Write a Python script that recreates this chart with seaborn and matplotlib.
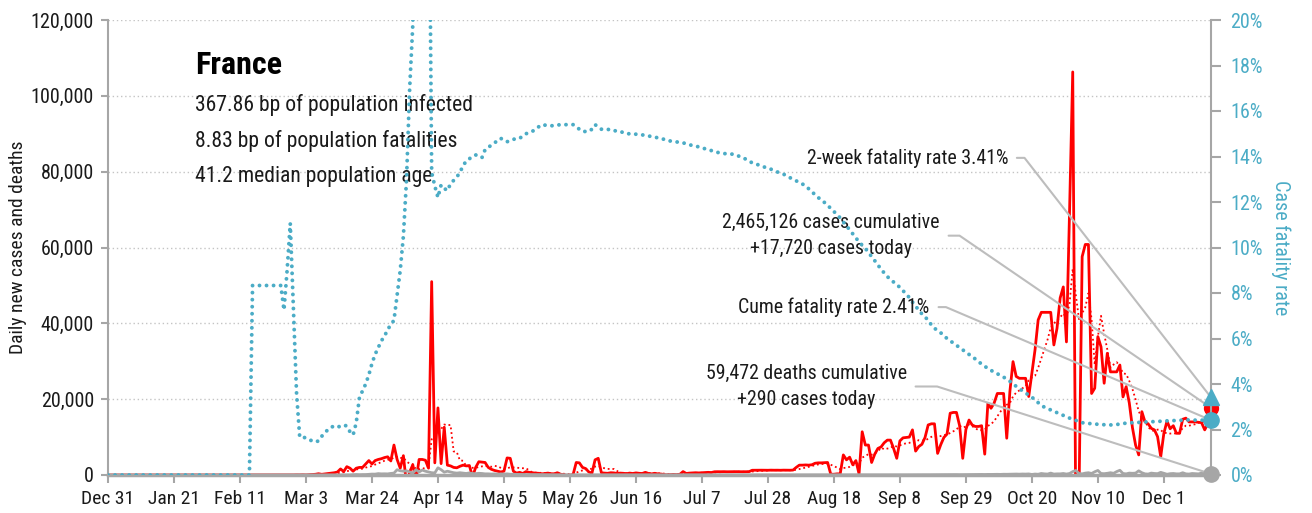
import pandas as pd
import matplotlib
matplotlib.use("Agg")
import matplotlib.pyplot as plt
from matplotlib import font_manager
from matplotlib.ticker import FuncFormatter, MultipleLocator
import seaborn as sns

# daily series from Dec 31 2019
start = "2019-12-31"

cases = [
    0, 0, 0, 0, 0, 0, 0, 0, 0, 0,
    0, 0, 0, 0, 0, 0, 0, 0, 0, 0,
    0, 0, 0, 0, 3, 0, 0, 1, 0, 1,
    0, 0, 0, 0, 0, 0, 0, 0, 0, 5,
    0, 0, 0, 1, 0, 0, 1, 0, 0, 0,
    0, 0, 0, 0, 0, 0, 2, 4, 20, 19,
    43, 30, 61, 21, 73, 138, 190, 336, 177, 286,
    372, 497, 595, 785, 1600, 900, 2200, 1800, 1000, 1800,
    2000, 2000, 2900, 3800, 2900, 3800, 4100, 4300, 4600, 4800,
    3700, 7900, 4100, 1800, 5100, -2500, 800, 2700, -1500, 4100,
    4100, 3900, 1800, 51000, 3200, 17700, 3000, 12600, 2600, 2400,
    2000, 1900, 2300, 2600, 2400, 2500, -500, 2000, 3500, 3400,
    3300, 2000, 1500, 1200, 1000, 800, 1000, 4500, 4400, 1000,
    500, 700, 400, 900, 700, 600, 500, 450, 300, 400,
    500, 350, 300, 600, 200, 100, -100, -50, 100, 3300,
    3200, 2000, 1700, 800, 500, 4000, 4400, 600, 500, 450,
    600, 550, 400, 500, 450, 350, 500, 400, 550, 450,
    400, 700, 400, 300, 450, 300, 250, 100, 50, 100,
    150, 100, 200, 900, 400, 500, 550, 600, 550, 600,
    650, 700, 650, 850, 870, 860, 880, 850, 860, 870,
    880, 860, 850, 870, 880, 1250, 1260, 1250, 1270, 1260,
    1250, 1280, 1260, 1270, 1250, 1280, 1270, 1260, 1300, 2000,
    2600, 2600, 2650, 2600, 2700, 3100, 3200, 3200, 3250, 3300,
    200, 200, 300, 300, 5300, 4000, 4700, 2700, 3800, 300,
    11400, 7900, 7900, 3300, 5500, 7000, 7400, 8500, 9200, 9200,
    7000, 4400, 9000, 9800, 9900, 10000, 11900, 6300, 7500, 8100,
    9900, 13200, 13500, 13500, 5700, 8000, 9900, 10800, 16300, 16500,
    16500, 13000, 4400, 12000, 14500, 13200, 12800, 12800, 13000, 5500,
    18900, 17600, 19000, 21500, 21500, 21500, 9700, 22000, 29900, 26000,
    25500, 25500, 25500, 20700, 26800, 33000, 40900, 42900, 42900, 42900,
    42900, 34300, 38700, 46700, 49600, 35100, 70000, 106300, -15000, -5000,
    57600, 60800, 60800, 21500, 22900, 36500, 33800, 24200, 32100, 27200,
    27200, 27200, 29000, 20600, 23300, 19000, 12500, 7900, 5300, 16700,
    14000, 13500, 12300, 11900, 10100, 4800, 11000, 14200, 12200, 13000,
    11000, 11000, 14700, 15000, 14000, 14000, 14000, 13900, 13800, 11900,
    13600,
]

deaths = [
    0, 0, 0, 0, 0, 0, 0, 0, 0, 0,
    0, 0, 0, 0, 0, 0, 0, 0, 0, 0,
    0, 0, 0, 0, 0, 0, 0, 0, 0, 0,
    0, 0, 0, 0, 0, 0, 0, 0, 0, 0,
    0, 0, 0, 0, 0, 0, 1, 0, 0, 0,
    0, 0, 0, 0, 0, 0, 0, 1, 0, 0,
    0, 0, 1, 1, 0, 2, 3, 2, 3, 11,
    3, 15, 13, 18, 12, 36, 21, 27, 69, 128,
    78, 112, 112, 186, 240, 231, 365, 299, 319, 292,
    418, 500, 1400, 1100, 1000, 1100, 800, 500, 1400, 800,
    1300, 1000, 800, 600, 550, 1900, 1400, 750, 1000, 800,
    600, 500, 600, 500, 400, 550, 400, 350, 450, 400,
    300, 300, 250, 300, 200, 300, 250, 300, 200, 180,
    150, 140, 130, 120, 110, 100, 90, 90, 80, 70,
    70, 60, 55, 50, 70, 45, 40, 40, 35, 50,
    30, 30, 30, 25, 30, 25, 20, 25, 20, 20,
    25, 20, 15, 20, 25, 15, 20, 15, 20, 25,
    15, 20, 15, 10, 20, 15, 20, 25, 15, 20,
    15, 20, 10, 15, 20, 15, 20, 10, 15, 20,
    15, 20, 15, 10, 20, 15, 20, 15, 10, 20,
    15, 20, 15, 10, 20, 15, 20, 15, 20, 15,
    15, 20, 10, 15, 20, 15, 20, 15, 10, 20,
    15, 20, 15, 20, 15, 20, 15, 20, 20, 15,
    20, 25, 20, 30, 25, 20, 30, 25, 30, 35,
    30, 40, 35, 30, 40, 45, 35, 40, 50, 45,
    40, 50, 45, 55, 60, 50, 45, 55, 60, 65,
    70, 60, 75, 80, 70, 85, 90, 80, 95, 100,
    110, 90, 100, 120, 110, 130, 120, 140, 150, 130,
    160, 150, 170, 180, 160, 200, 190, 210, 230, 250,
    220, 260, 240, 280, 150, 250, 200, 400, 300, 250,
    500, 250, 300, 300, 400, 250, 400, 900, 1200, 400,
    300, 500, 600, 400, 850, 1200, 400, 350, 450, 600,
    450, 900, 1250, 400, 300, 500, 450, 500, 1100, 600,
    300, 250, 500, 400, 350, 700, 450, 200, 350, 400,
    300, 300, 600, 300, 250, 400, 350, 300, 500, 350,
    290,
]

# case fatality rate, percent
cfr = [
    0, 0, 0, 0, 0, 0, 0, 0, 0, 0,
    0, 0, 0, 0, 0, 0, 0, 0, 0, 0,
    0, 0, 0, 0, 0, 0, 0, 0, 0, 0,
    0, 0, 0, 0, 0, 0, 0, 0, 0, 0,
    0, 0, 0, 0, 0, 0, 8.33, 8.33, 8.33, 8.33,
    8.33, 8.33, 8.33, 8.33, 8.33, 8.33, 7.25, 9.0, 11.06, 7.3,
    3.6, 1.68, 1.7, 1.6, 1.55, 1.5, 1.45, 1.5, 1.7, 1.85,
    2.0, 2.1, 2.15, 2.1, 2.15, 2.2, 2.15, 1.9, 1.76, 2.3,
    3.4, 3.7, 4.0, 4.4, 4.9, 5.3, 5.6, 5.9, 6.1, 6.4,
    6.6, 6.8, 7.9, 9.0, 10.5, 13.0, 17.0, 19.8, 30, 30,
    30, 30, 30, 13.3, 12.7, 12.2, 12.75, 12.6, 12.5, 12.8,
    12.95, 13.1, 13.3, 13.6, 13.8, 13.9, 14.0, 14.07, 14.0, 13.95,
    14.3, 14.4, 14.5, 14.6, 14.7, 14.8, 14.7, 14.65, 14.7, 14.75,
    14.8, 14.8, 14.9, 15.0, 15.05, 15.1, 15.2, 15.3, 15.4, 15.38,
    15.36, 15.35, 15.36, 15.38, 15.4, 15.4, 15.4, 15.4, 15.4, 15.3,
    15.2, 15.1, 15.1, 15.1, 15.2, 15.4, 15.3, 15.2, 15.2, 15.2,
    15.15, 15.15, 15.1, 15.1, 15.05, 15.0, 15.0, 15.0, 14.98, 14.96,
    14.95, 14.93, 14.9, 14.88, 14.85, 14.82, 14.8, 14.75, 14.7, 14.68,
    14.66, 14.64, 14.62, 14.6, 14.56, 14.52, 14.48, 14.46, 14.42, 14.38,
    14.34, 14.3, 14.26, 14.22, 14.18, 14.15, 14.13, 14.12, 14.11, 14.1,
    14.06, 14.0, 13.95, 13.88, 13.8, 13.72, 13.68, 13.63, 13.58, 13.53,
    13.5, 13.44, 13.38, 13.32, 13.28, 13.22, 13.15, 13.07, 13.0, 12.93,
    12.86, 12.79, 12.7, 12.58, 12.45, 12.32, 12.2, 12.07, 11.98, 11.85,
    11.72, 11.58, 11.45, 11.3, 11.12, 10.95, 10.78, 10.6, 10.42, 10.25,
    10.1, 9.96, 9.78, 9.6, 9.42, 9.23, 9.05, 8.88, 8.72, 8.6,
    8.48, 8.36, 8.25, 8.1, 7.95, 7.8, 7.6, 7.42, 7.25, 7.08,
    6.95, 6.8, 6.6, 6.45, 6.35, 6.25, 6.12, 6.0, 5.9, 5.8,
    5.7, 5.6, 5.5, 5.4, 5.3, 5.2, 5.1, 4.98, 4.88, 4.78,
    4.68, 4.6, 4.52, 4.45, 4.38, 4.3, 4.22, 4.12, 4.0, 3.9,
    3.8, 3.7, 3.6, 3.52, 3.42, 3.3, 3.18, 3.06, 2.98, 2.92,
    2.86, 2.8, 2.74, 2.68, 2.62, 2.56, 2.5, 2.45, 2.4, 2.35,
    2.3, 2.28, 2.27, 2.25, 2.24, 2.23, 2.22, 2.21, 2.2, 2.2,
    2.21, 2.22, 2.24, 2.26, 2.28, 2.29, 2.3, 2.3, 2.31, 2.32,
    2.33, 2.34, 2.34, 2.35, 2.36, 2.36, 2.37, 2.38, 2.38, 2.39,
    2.4, 2.4, 2.41, 2.42, 2.42, 2.42, 2.41, 2.41, 2.41, 2.41,
    2.41,
]

today_cases = 17720
today_deaths = 290
cume_cfr = 2.41
two_week_cfr = 3.41

country = "France"
stats_lines = ["367.86 bp of population infected",
               "8.83 bp of population fatalities",
               "41.2 median population age"]
note_2wk = "2-week fatality rate 3.41%"
note_cases = "2,465,126 cases cumulative\n+17,720 cases today"
note_cfr = "Cume fatality rate 2.41%"
note_deaths = "59,472 deaths cumulative\n+290 cases today"

assert len(cases) == len(deaths) == len(cfr)

df = pd.DataFrame({
    "date": pd.date_range(start, periods=len(cases)),
    "cases": cases,
    "deaths": deaths,
    "cfr": cfr,
})
df["cases_7d"] = df["cases"].rolling(7, min_periods=1).mean()
today = df["date"].iloc[-1] + pd.Timedelta(days=1)

sns.set_theme(style="white")

# the original uses a condensed face; take a narrow one if any is installed
fonts = font_manager.fontManager.ttflist
names = {f.name for f in fonts}
narrow = [n for n in ["Liberation Sans Narrow", "Roboto Condensed", "Open Sans Condensed",
                      "Noto Sans Condensed", "DejaVu Sans Condensed"] if n in names]
condensed = [f.name for f in fonts
             if f.stretch in ("condensed", "semi-condensed", "extra-condensed")
             and f.name in ("Roboto", "Noto Sans", "Open Sans", "DejaVu Sans", "Liberation Sans")]
if narrow:
    plt.rcParams["font.family"] = [narrow[0], "DejaVu Sans"]
    SCALE = 1.0
elif condensed:
    plt.rcParams["font.family"] = [condensed[0], "DejaVu Sans"]
    plt.rcParams["font.stretch"] = "condensed"
    SCALE = 1.0
else:
    plt.rcParams["font.family"] = ["Roboto", "DejaVu Sans"]
    SCALE = 0.85

RED = "#ff0000"
TEAL = "#4bacc6"
GRAY = "#a6a6a6"
LEAD = "#bdbdbd"
INK = "#1a1a1a"

fig = plt.figure(figsize=(13.12, 5.13), dpi=100)
ax = fig.add_axes([108 / 1312, 38 / 513, 1103 / 1312, 455 / 513])
ax2 = ax.twinx()

sns.lineplot(data=df, x="date", y="cases", ax=ax, color=RED, lw=2.0)
sns.lineplot(data=df, x="date", y="cases_7d", ax=ax, color=RED, lw=1.3, linestyle=(0, (1, 1.6)))
sns.lineplot(data=df, x="date", y="deaths", ax=ax, color=GRAY, lw=2.0)
sns.lineplot(data=df, x="date", y="cfr", ax=ax2, color=TEAL, lw=2.8,
             linestyle=(0, (0.01, 1.8)), dash_capstyle="round")

ax.set_xlim(df["date"].iloc[0], today)
ax.set_ylim(0, 120000)
ax2.set_ylim(0, 20)

xt = pd.date_range(start, today, freq="21D")
ax.set_xticks(xt)
ax.set_xticklabels([d.strftime("%b %-d") for d in xt])
ax.yaxis.set_major_locator(MultipleLocator(20000))
ax.yaxis.set_major_formatter(FuncFormatter(lambda v, p: f"{v:,.0f}"))
ax2.yaxis.set_major_locator(MultipleLocator(2))
ax2.yaxis.set_major_formatter(FuncFormatter(lambda v, p: f"{v:.0f}%"))

ax.yaxis.grid(True, linestyle=(0, (1, 2)), color="#c4c4c4", lw=1.0)
ax.set_axisbelow(True)

for s in ["top", "right"]:
    ax.spines[s].set_visible(False)
for s in ["top", "left", "bottom"]:
    ax2.spines[s].set_visible(False)
ax.spines["left"].set_color(GRAY)
ax.spines["left"].set_linewidth(1.5)
ax.spines["bottom"].set_color(GRAY)
ax.spines["bottom"].set_linewidth(2.5)
ax2.spines["right"].set_color(GRAY)
ax2.spines["right"].set_linewidth(1.5)

ax.tick_params(axis="x", bottom=True, direction="out", length=6, width=1.5, color=GRAY,
               labelsize=14 * SCALE, labelcolor=INK, pad=5)
ax.tick_params(axis="y", left=True, direction="out", length=5, width=1.5, color=GRAY,
               labelsize=14.5 * SCALE, labelcolor=INK, pad=5)
ax2.tick_params(axis="y", right=True, direction="out", length=7, width=1.5, color=GRAY,
                labelsize=14.5 * SCALE, labelcolor=TEAL, pad=7)

ax.set_xlabel("")
ax.set_ylabel("Daily new cases and deaths", fontsize=14 * SCALE, color=INK, va="center")
ax.yaxis.set_label_coords(-(108 - 18) / 1103, 0.5)
ax2.set_ylabel("Case fatality rate", fontsize=14.5 * SCALE, color=TEAL, rotation=270, va="center")
ax2.yaxis.set_label_coords(1.0635, 0.5)

# title block
ax.text(0.079, 0.901, country, transform=ax.transAxes, fontsize=23 * SCALE, fontweight="bold",
        color="#000000", va="center", ha="left")
for i, line in enumerate(stats_lines):
    ax.text(0.079, 0.813 - i * 0.078, line, transform=ax.transAxes, fontsize=15.6 * SCALE,
            color=INK, va="center", ha="left")

# end markers
ax.plot([today], [today_cases], "o", color=RED, ms=10, clip_on=False, zorder=6)
ax.plot([today], [today_deaths], "o", color=GRAY, ms=11, clip_on=False, zorder=6)
ax2.plot([today], [cume_cfr], "o", color=TEAL, ms=11, clip_on=False, zorder=6)
ax2.plot([today], [two_week_cfr], "^", color=TEAL, ms=12, clip_on=False, zorder=6)


def leader(axis, text, y_val, xt, yt, ha, angle_b):
    axis.annotate(text, xy=(today, y_val), xycoords="data", xytext=(xt, yt),
                  textcoords="axes fraction", ha=ha, va="center", fontsize=14.3 * SCALE,
                  color=INK, linespacing=1.45, multialignment="center",
                  annotation_clip=False,
                  arrowprops=dict(arrowstyle="-", color=LEAD, lw=1.5, shrinkA=4, shrinkB=0,
                                  relpos=(1, 0.5),
                                  connectionstyle=f"angle,angleA=0,angleB={angle_b},rad=0"))


leader(ax2, note_2wk, two_week_cfr, 0.816, 0.697, "right", -52.1)
leader(ax, note_cases, today_cases, 0.6555, 0.526, "center", -34.4)
leader(ax2, note_cfr, cume_cfr, 0.745, 0.369, "right", -23.1)
leader(ax, note_deaths, today_deaths, 0.633, 0.1945, "center", -17.7)

fig.savefig("out.png", dpi=100)
